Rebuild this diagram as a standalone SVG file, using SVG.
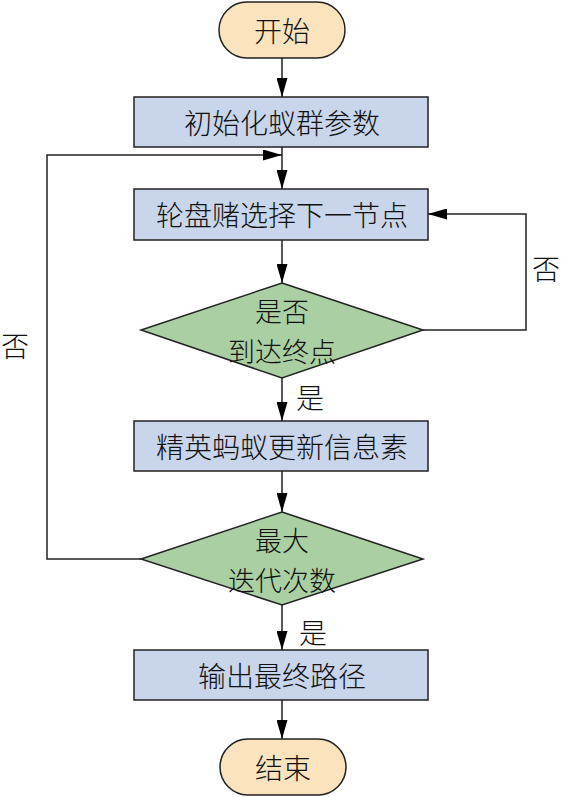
<svg xmlns="http://www.w3.org/2000/svg" width="562" height="797" viewBox="0 0 562 797">
<style>
.term{fill:#fbe3bd;stroke:#222;stroke-width:1.5}
.box{fill:#c8d5ea;stroke:#222;stroke-width:1.5}
.dia{fill:#a9cfa3;stroke:#222;stroke-width:1.5}
.t{font-family:"Noto Sans CJK SC","Noto Sans",sans-serif;font-size:28px;font-weight:300;fill:#111;text-anchor:middle;dominant-baseline:central}
.d{font-size:27px}
.c{fill:none;stroke:#222;stroke-width:1.5}
</style>
<defs>
<marker id="ah" viewBox="0 0 19 11" refX="19" refY="5.5" markerWidth="19" markerHeight="11" markerUnits="userSpaceOnUse" orient="auto">
<path d="M0,0 L19,5.5 L0,11 Z" fill="#000"/>
</marker>
</defs>
<rect width="562" height="797" fill="#fff"/>
<g id="connectors">
<line class="c" x1="282" y1="58" x2="282" y2="97" marker-end="url(#ah)"/>
<line class="c" x1="282" y1="147" x2="282" y2="189" marker-end="url(#ah)"/>
<polyline class="c" points="141,559 47,559 47,155 282,155" marker-end="url(#ah)"/>
<line class="c" x1="282" y1="240" x2="282" y2="283" marker-end="url(#ah)"/>
<polyline class="c" points="423,330 526,330 526,214 428,214" marker-end="url(#ah)"/>
<line class="c" x1="282" y1="378" x2="282" y2="421" marker-end="url(#ah)"/>
<line class="c" x1="282" y1="471" x2="282" y2="512" marker-end="url(#ah)"/>
<line class="c" x1="282" y1="605" x2="282" y2="650" marker-end="url(#ah)"/>
<line class="c" x1="282" y1="700" x2="282" y2="739" marker-end="url(#ah)"/>
<text class="t" x="546" y="268">否</text>
<text class="t" x="15" y="345">否</text>
<text class="t" x="310" y="397">是</text>
<text class="t" x="313" y="632">是</text>
</g>
<g id="start">
<rect class="term" x="219" y="2" width="126" height="56" rx="28"/>
<text class="t" x="282" y="30">开始</text>
</g>
<g id="init">
<rect class="box" x="134" y="97" width="294" height="50"/>
<text class="t" x="282" y="122">初始化蚁群参数</text>
</g>
<g id="roulette">
<rect class="box" x="134" y="189" width="294" height="51"/>
<text class="t" x="282" y="214">轮盘赌选择下一节点</text>
</g>
<g id="reach">
<polygon class="dia" points="282,283 423,330 282,378 141,330"/>
<text class="t d" x="282" y="310">是否</text>
<text class="t d" x="282" y="350">到达终点</text>
</g>
<g id="update">
<rect class="box" x="134" y="421" width="294" height="50"/>
<text class="t" x="282" y="446">精英蚂蚁更新信息素</text>
</g>
<g id="maxiter">
<polygon class="dia" points="282,512 423,559 282,605 141,559"/>
<text class="t d" x="282" y="539">最大</text>
<text class="t d" x="282" y="579">迭代次数</text>
</g>
<g id="output">
<rect class="box" x="134" y="650" width="294" height="50"/>
<text class="t" x="282" y="675">输出最终路径</text>
</g>
<g id="end">
<rect class="term" x="220" y="739" width="126" height="56" rx="28"/>
<text class="t" x="283" y="767">结束</text>
</g>
</svg>
